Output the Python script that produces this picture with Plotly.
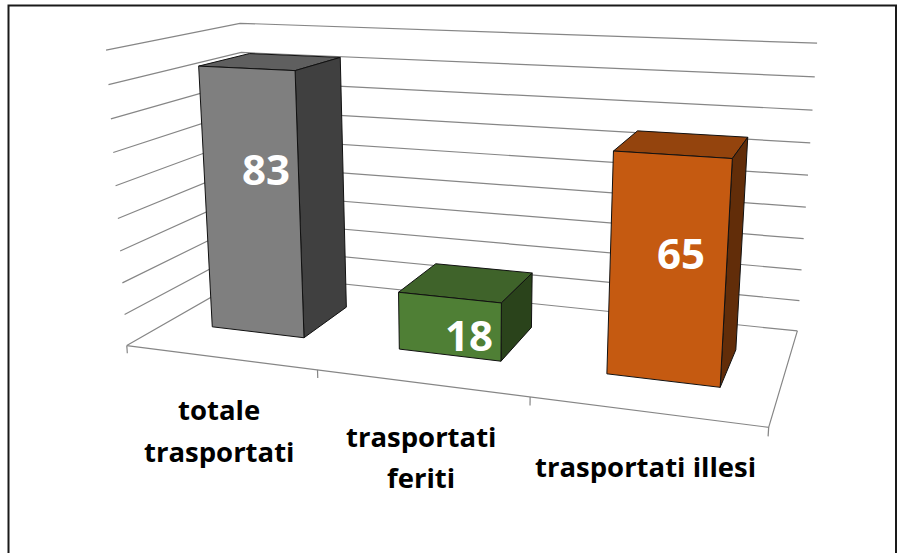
"""Excel style 3D column chart, drawn on a flat pixel canvas through a small pinhole camera."""

import numpy as np
import plotly.graph_objects as go

# ======================= data ======================
CATEGORY_LINES = [["totale", "trasportati"], ["trasportati", "feriti"], ["trasportati illesi"]]
VALUES = [83, 18, 65]
GRID_LEVELS = [0, 10, 20, 30, 40, 50, 60, 70, 80, 90]
FRONT_COLORS = ["#7f7f7f", "#4f7f35", "#c55a11"]
TOP_COLORS = ["#5f5f5f", "#3f632a", "#94440d"]
SIDE_COLORS = ["#404040", "#2a431b", "#622d09"]
# ===================================================

# where the category and value texts sit on the canvas
CATEGORY_X = [219, 421, 645]
CATEGORY_Y = [[409, 451], [436, 477], [466]]
VALUE_X = [266, 469, 681]
VALUE_Y = [168, 334, 252]

# camera fitted to the picture (room is 1 wide, ROOM_DEPTH deep, ROOM_HEIGHT high)
EYE = np.array([0.64405, -1.89607, 0.46936])
CENTER = np.array([-0.06626, 0.11125, -0.09614])
UP = np.array([-0.09603, 0.28065, 1.0])
FOCAL = 1311.43
PRINCIPAL = (450.74, 235.17)
ROOM_DEPTH = 0.41892
ROOM_HEIGHT = 0.46887
BAR_HALF_WIDTH = 0.25152
BAR_FRONT, BAR_BACK = 0.30051, 0.70367
AXIS_MAX = 90
NUM_CATS = len(VALUES)

GRID_COLOR = "#868686"
FONT = "Open Sans"


def project(x, y, z):
    """Category/depth/value coordinates to canvas pixels."""
    p = np.array([(x / NUM_CATS - 0.5), (y - 0.5) * ROOM_DEPTH, (z / AXIS_MAX - 0.5) * ROOM_HEIGHT])
    back = (EYE - CENTER) / np.linalg.norm(EYE - CENTER)
    right = np.cross(UP, back)
    right /= np.linalg.norm(right)
    above = np.cross(back, right)
    d = p - EYE
    dist = -d @ back
    return PRINCIPAL[0] + FOCAL * (d @ right) / dist, PRINCIPAL[1] - FOCAL * (d @ above) / dist


def polyline(points):
    xs, ys = zip(*[project(*pt) for pt in points])
    return list(xs), list(ys)


def add_lines(fig, segments, color=GRID_COLOR, width=1.2):
    xs, ys = [], []
    for seg in segments:
        sx, sy = polyline(seg)
        xs += sx + [None]
        ys += sy + [None]
    fig.add_trace(go.Scatter(x=xs, y=ys, mode="lines", line=dict(color=color, width=width),
                             hoverinfo="skip", showlegend=False))


def add_face(fig, corners, color):
    xs, ys = polyline(corners + corners[:1])
    fig.add_trace(go.Scatter(x=xs, y=ys, mode="lines", fill="toself", fillcolor=color,
                             line=dict(color="#111111", width=1),
                             hoverinfo="skip", showlegend=False))


fig = go.Figure()

# walls and floor
segments = []
for level in GRID_LEVELS:
    segments.append([(0, 0, level), (0, 1, level), (NUM_CATS, 1, level)])
segments.append([(0, 0, 0), (NUM_CATS, 0, 0), (NUM_CATS, 1, 0)])
for i in range(NUM_CATS + 1):
    segments.append([(i, 0, 0), (i, 0, -2.5)])
add_lines(fig, segments)

# bars: top, side, then front so the front edges stay on top
for i, value in enumerate(VALUES):
    x0, x1 = i + 0.5 - BAR_HALF_WIDTH, i + 0.5 + BAR_HALF_WIDTH
    add_face(fig, [(x0, BAR_FRONT, value), (x1, BAR_FRONT, value), (x1, BAR_BACK, value), (x0, BAR_BACK, value)],
             TOP_COLORS[i])
    add_face(fig, [(x1, BAR_FRONT, 0), (x1, BAR_BACK, 0), (x1, BAR_BACK, value), (x1, BAR_FRONT, value)],
             SIDE_COLORS[i])
    add_face(fig, [(x0, BAR_FRONT, 0), (x1, BAR_FRONT, 0), (x1, BAR_FRONT, value), (x0, BAR_FRONT, value)],
             FRONT_COLORS[i])

annotations = []
for lines, cx, cys in zip(CATEGORY_LINES, CATEGORY_X, CATEGORY_Y):
    for text, cy in zip(lines, cys):
        annotations.append(dict(x=cx, y=cy, text=text, showarrow=False,
                                font=dict(family=FONT, size=27.5, color="black", weight="bold")))
for value, cx, cy in zip(VALUES, VALUE_X, VALUE_Y):
    annotations.append(dict(x=cx, y=cy, text=str(value), showarrow=False,
                            font=dict(family=FONT, size=42, color="white", weight="bold")))

fig.update_layout(
    width=898, height=553,
    margin=dict(l=0, r=0, t=0, b=0),
    paper_bgcolor="white", plot_bgcolor="white",
    xaxis=dict(range=[0, 898], visible=False),
    yaxis=dict(range=[553, 0], visible=False),
    annotations=annotations,
    shapes=[dict(type="rect", x0=8.5, y0=5.5, x1=896, y1=570, line=dict(color="#1a1a1a", width=2))],
)
fig.write_html("out.html", config=dict(displayModeBar=False),
               post_script="document.body.style.margin='0';document.body.style.overflow='hidden';")
